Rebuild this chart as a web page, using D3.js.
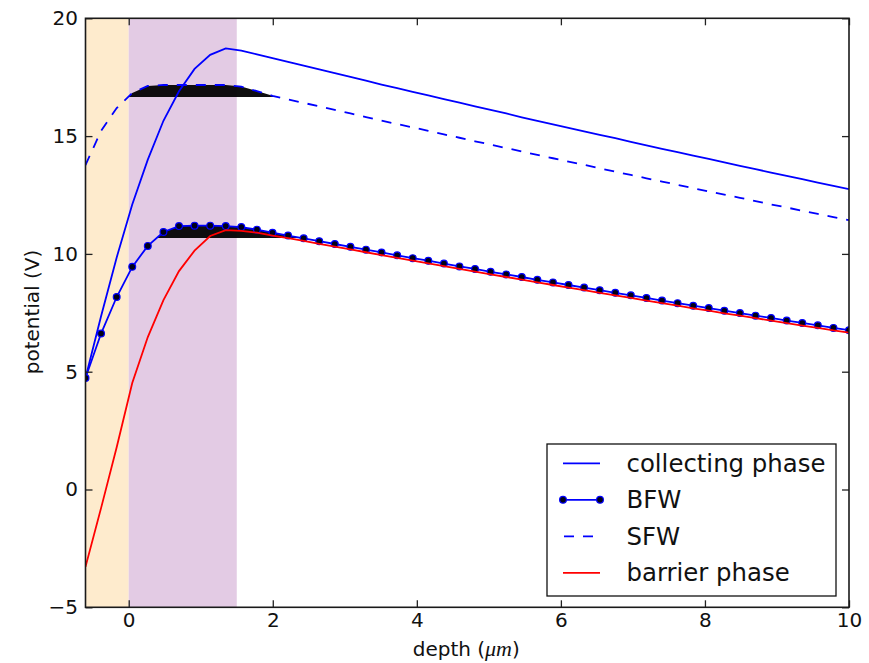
<!DOCTYPE html>
<html><head><meta charset="utf-8">
<script src="https://cdn.jsdelivr.net/npm/d3@7"></script>
<style>
body{margin:0;background:#fff}
svg{display:block}
text{font-family:"DejaVu Sans",sans-serif;fill:#111}
</style>
</head><body>
<svg id="c" width="869" height="663"></svg>
<script>
// ---- data ----
const depth = [-0.600,-0.384,-0.167,0.049,0.265,0.482,0.698,0.914,1.131,1.347,
  1.563,1.780,1.996,2.212,2.429,2.645,2.861,3.078,3.294,3.510,
  3.727,3.943,4.159,4.376,4.592,4.808,5.024,5.241,5.457,5.673,
  5.890,6.106,6.322,6.539,6.755,6.971,7.188,7.404,7.620,7.837,
  8.053,8.269,8.486,8.702,8.918,9.135,9.351,9.567,9.784,10.000];
const collecting = [4.73,7.35,9.85,12.10,14.00,15.65,16.90,17.85,18.45,18.72,
  18.63,18.47,18.31,18.15,17.99,17.83,17.67,17.51,17.35,17.19,
  17.04,16.88,16.73,16.57,16.42,16.26,16.11,15.96,15.80,15.65,
  15.50,15.35,15.20,15.05,14.91,14.76,14.61,14.46,14.32,14.17,
  14.03,13.88,13.74,13.60,13.45,13.31,13.17,13.03,12.89,12.75];
const bfw = [4.73,6.62,8.17,9.45,10.34,10.93,11.18,11.20,11.20,11.18,
  11.14,11.03,10.90,10.78,10.66,10.54,10.42,10.30,10.18,10.06,
  9.94,9.82,9.71,9.59,9.47,9.36,9.24,9.13,9.02,8.90,
  8.79,8.68,8.57,8.46,8.35,8.24,8.13,8.02,7.91,7.80,
  7.70,7.59,7.49,7.38,7.28,7.17,7.07,6.97,6.86,6.76];
const sfw = [13.77,15.22,16.19,16.83,17.13,17.17,17.17,17.17,17.17,17.17,
  17.10,16.91,16.71,16.56,16.41,16.26,16.11,15.96,15.81,15.66,
  15.51,15.37,15.22,15.07,14.93,14.78,14.64,14.49,14.35,14.20,
  14.06,13.92,13.78,13.63,13.49,13.35,13.21,13.07,12.93,12.79,
  12.65,12.52,12.38,12.24,12.10,11.97,11.83,11.70,11.56,11.43];
const barrier = [-3.28,-0.79,1.79,4.52,6.47,8.04,9.27,10.14,10.76,11.01,
  10.98,10.90,10.78,10.67,10.55,10.43,10.31,10.19,10.07,9.95,
  9.83,9.71,9.60,9.48,9.36,9.25,9.13,9.02,8.91,8.79,
  8.68,8.57,8.46,8.35,8.24,8.13,8.02,7.91,7.80,7.69,
  7.59,7.48,7.38,7.27,7.17,7.06,6.96,6.86,6.75,6.66];
const regions = [{from:-0.6,to:0,color:"#feebcd"},{from:0,to:1.5,color:"#e3cbe4"}];
const wellLevels = {sfw:16.66, bfw:10.68};
const xTicks = [0,2,4,6,8,10];
const yTicks = [-5,0,5,10,15,20];
const legendLabels = ["collecting phase","BFW","SFW","barrier phase"];

// ---- layout ----
const M = {left:85.5,right:849,top:18.3,bottom:607.3};
const x = d3.scaleLinear().domain([-0.6,10]).range([M.left,M.right]);
const y = d3.scaleLinear().domain([-5,20]).range([M.bottom,M.top]);
const svg = d3.select("#c");
const LW = 1.8;

svg.append("defs").append("clipPath").attr("id","clip")
  .append("rect").attr("x",M.left).attr("y",M.top)
  .attr("width",M.right-M.left).attr("height",M.bottom-M.top);

const plot = svg.append("g").attr("clip-path","url(#clip)");

// shaded regions
plot.selectAll("rect.region").data(regions).enter().append("rect")
  .attr("class","region")
  .attr("x",d=>x(d.from)).attr("width",d=>x(d.to)-x(d.from))
  .attr("y",M.top).attr("height",M.bottom-M.top)
  .attr("fill",d=>d.color);

// well fills: the part of a curve above a level
function wellPoints(vals, level){
  const pts=[];
  for(let i=0;i<vals.length;i++){
    const v=vals[i];
    if(i>0){
      const p=vals[i-1];
      if((p<level)!==(v<level)){
        const f=(level-p)/(v-p);
        pts.push([depth[i-1]+f*(depth[i]-depth[i-1]),level]);
      }
    }
    if(v>=level) pts.push([depth[i],v]);
  }
  return pts;
}
const wellArea = lvl => d3.area().x(d=>x(d[0])).y0(y(lvl)).y1(d=>y(d[1]));
plot.append("path").attr("d",wellArea(wellLevels.sfw)(wellPoints(sfw,wellLevels.sfw)))
  .attr("fill","#000").attr("fill-opacity",0.94);
plot.append("path").attr("d",wellArea(wellLevels.bfw)(wellPoints(bfw,wellLevels.bfw)))
  .attr("fill","#000").attr("fill-opacity",0.94);

const line = vals => d3.line().x((d,i)=>x(depth[i])).y(d=>y(d))(vals);

plot.append("path").attr("d",line(collecting)).attr("fill","none")
  .attr("stroke","#0000ff").attr("stroke-width",LW);
plot.append("path").attr("d",line(bfw)).attr("fill","none")
  .attr("stroke","#0000ff").attr("stroke-width",LW);
plot.selectAll("circle.bfw").data(bfw).enter().append("circle")
  .attr("class","bfw")
  .attr("cx",(d,i)=>x(depth[i])).attr("cy",d=>y(d)).attr("r",3.4)
  .attr("fill","#000018").attr("stroke","#0000ff").attr("stroke-width",1.2);
plot.append("path").attr("d",line(sfw)).attr("fill","none")
  .attr("stroke","#0000ff").attr("stroke-width",LW).attr("stroke-dasharray","10,9");
plot.append("path").attr("d",line(barrier)).attr("fill","none")
  .attr("stroke","#ff0000").attr("stroke-width",LW);

// ---- axes (ticks inside on all sides) ----
const fmt = d3.format("d");
function styleAxis(g){
  g.select(".domain").remove();
  g.selectAll(".tick line").attr("stroke","#222").attr("stroke-width",1.3);
  g.selectAll(".tick text").attr("font-size",20).attr("fill","#111")
    .attr("font-family","DejaVu Sans");
}
svg.append("g").attr("transform",`translate(0,${M.bottom})`)
  .call(d3.axisBottom(x).tickValues(xTicks).tickFormat(fmt).tickSize(-7).tickPadding(6))
  .call(styleAxis);
svg.append("g").attr("transform",`translate(0,${M.top})`)
  .call(d3.axisTop(x).tickValues(xTicks).tickFormat("").tickSize(-7))
  .call(styleAxis);
svg.append("g").attr("transform",`translate(${M.left},0)`)
  .call(d3.axisLeft(y).tickValues(yTicks).tickFormat(fmt).tickSize(-7).tickPadding(7.5))
  .call(styleAxis);
svg.append("g").attr("transform",`translate(${M.right},0)`)
  .call(d3.axisRight(y).tickValues(yTicks).tickFormat("").tickSize(-7))
  .call(styleAxis);

// frame
svg.append("rect").attr("x",M.left).attr("y",M.top)
  .attr("width",M.right-M.left).attr("height",M.bottom-M.top)
  .attr("fill","none").attr("stroke","#1a1a1a").attr("stroke-width",1.6);

// axis labels
const xl = svg.append("text").attr("x",(M.left+M.right)/2-1).attr("y",656)
  .attr("text-anchor","middle").attr("font-size",20);
xl.append("tspan").text("depth (");
xl.append("tspan").attr("font-family","Liberation Serif").attr("font-style","italic")
  .attr("font-size",22).text("μm");
xl.append("tspan").text(")");
svg.append("text").attr("transform","translate(39,312) rotate(-90)")
  .attr("text-anchor","middle").attr("font-size",20).text("potential (V)");

// ---- legend ----
const lg = svg.append("g");
lg.append("rect").attr("x",547).attr("y",444).attr("width",289).attr("height",152)
  .attr("fill","#fff").attr("stroke","#111").attr("stroke-width",1.3);
const rowY = i => 463.3 + i*36.5;
const hx0 = 563, hx1 = 600;
const handles = [
  {stroke:"#0000ff",dash:null,markers:false},
  {stroke:"#0000ff",dash:null,markers:true},
  {stroke:"#0000ff",dash:"10,9",markers:false},
  {stroke:"#ff0000",dash:null,markers:false}
];
legendLabels.forEach((lab,i)=>{
  const h=handles[i];
  const ln = lg.append("line").attr("x1",hx0).attr("x2",hx1)
    .attr("y1",rowY(i)).attr("y2",rowY(i))
    .attr("stroke",h.stroke).attr("stroke-width",LW);
  if(h.dash) ln.attr("stroke-dasharray",h.dash).attr("x1",hx0+1).attr("x2",hx1);
  if(h.markers){
    [hx0,hx1].forEach(cx=>lg.append("circle").attr("cx",cx).attr("cy",rowY(i)).attr("r",3.4)
      .attr("fill","#000018").attr("stroke","#0000ff").attr("stroke-width",1.2));
  }
  lg.append("text").attr("x",626.5).attr("y",rowY(i)).attr("dy","0.35em")
    .attr("font-size",24.4).text(lab);
});
</script>
</body></html>
